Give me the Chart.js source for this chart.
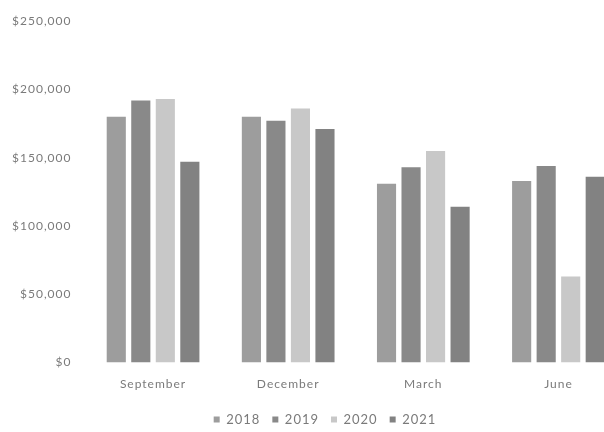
<!DOCTYPE html>
<html>
<head>
<meta charset="utf-8">
<script src="https://cdn.jsdelivr.net/npm/chart.js@4/dist/chart.umd.min.js"></script>
<style>
  html, body { margin: 0; padding: 0; background: #ffffff; }
  #frame { width: 604px; height: 432px; overflow: hidden; position: relative; }
  #chart { display: block; filter: blur(0.35px); }
</style>
</head>
<body>
<div id="frame"><canvas id="chart" width="644" height="436"></canvas></div>
<script>
// Quarterly sales by fiscal year
const quarters = ['September', 'December', 'March', 'June'];
const years = ['2018', '2019', '2020', '2021'];
const sales2018 = [180000, 180000, 131000, 133000];
const sales2019 = [192000, 177000, 143000, 144000];
const sales2020 = [193000, 186000, 155000, 63000];
const sales2021 = [147000, 171000, 114000, 136000];
const yTicks = [0, 50000, 100000, 150000, 200000, 250000];

const seriesValues = [sales2018, sales2019, sales2020, sales2021];
const seriesColors = ['#9d9d9d', '#898989', '#c8c8c8', '#828282'];
const textColor = '#7a7a7a';
const fontFamily = 'Lato, "Open Sans", sans-serif';

// Slightly tracked-out lettering for every label on the canvas
const trackingPlugin = {
  id: 'tracking',
  beforeUpdate(chart) { chart.ctx.letterSpacing = '1px'; },
  beforeLayout(chart) { chart.ctx.letterSpacing = '1px'; },
  beforeDraw(chart) { chart.ctx.letterSpacing = '1px'; }
};

// Nudge the legend row to the right of the plot's centre line
const legendShift = {
  id: 'legendShift',
  afterLayout(chart) {
    if (chart.legend) {
      chart.legend.left += 12;
      chart.legend.right += 12;
    }
  }
};

const money = v => '$' + v.toLocaleString('en-US');

new Chart(document.getElementById('chart'), {
  type: 'bar',
  data: {
    labels: quarters,
    datasets: years.map((y, i) => ({
      label: y,
      data: seriesValues[i],
      backgroundColor: seriesColors[i],
      borderWidth: 0,
      categoryPercentage: 0.726,
      barPercentage: 0.78
    }))
  },
  options: {
    responsive: false,
    animation: false,
    devicePixelRatio: 1,
    layout: { padding: { top: 14, left: 0, right: 18, bottom: 0 } },
    plugins: {
      tooltip: { enabled: false },
      legend: {
        position: 'bottom',
        labels: {
          boxWidth: 6,
          boxHeight: 6,
          padding: 12,
          color: textColor,
          font: { family: fontFamily, size: 13 }
        }
      }
    },
    scales: {
      x: {
        grid: { display: false, drawTicks: false },
        border: { display: false },
        ticks: {
          color: textColor,
          padding: 14,
          maxRotation: 0,
          font: { family: fontFamily, size: 12 }
        },
        afterFit(scale) { scale.height = 38.5; }
      },
      y: {
        min: 0,
        max: 250000,
        grid: { display: false, drawTicks: false },
        border: { display: false },
        afterBuildTicks(scale) { scale.ticks = yTicks.map(v => ({ value: v })); },
        ticks: {
          color: textColor,
          padding: 14,
          font: { family: fontFamily, size: 12 },
          callback: v => money(v)
        },
        afterFit(scale) { scale.width = 85.5; }
      }
    }
  },
  plugins: [trackingPlugin, legendShift]
});
</script>
</body>
</html>
